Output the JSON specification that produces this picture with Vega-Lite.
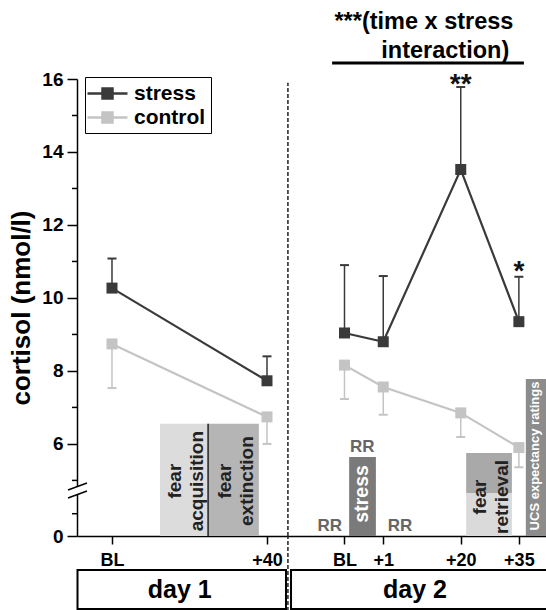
{
  "$schema": "https://vega.github.io/schema/vega-lite/v6.json",
  "width": 469,
  "height": 457,
  "autosize": "none",
  "padding": {"left": 77, "top": 79, "right": 0, "bottom": 74},
  "background": "white",
  "config": {"view": {"stroke": null}, "font": "Liberation Sans", "text": {"font": "Liberation Sans"}},
  "datasets": {
    "cortisol": [
      {"group": "stress", "day": "day 1", "t": 0, "mean": 10.27, "err": 11.08},
      {"group": "stress", "day": "day 1", "t": 40, "mean": 7.73, "err": 8.4},
      {"group": "stress", "day": "day 2", "t": 60, "mean": 9.04, "err": 10.9},
      {"group": "stress", "day": "day 2", "t": 70, "mean": 8.8, "err": 10.6},
      {"group": "stress", "day": "day 2", "t": 90, "mean": 13.52, "err": 15.78},
      {"group": "stress", "day": "day 2", "t": 105, "mean": 9.35, "err": 10.58},
      {"group": "control", "day": "day 1", "t": 0, "mean": 8.74, "err": 7.53},
      {"group": "control", "day": "day 1", "t": 40, "mean": 6.74, "err": 6.0},
      {"group": "control", "day": "day 2", "t": 60, "mean": 8.16, "err": 7.23},
      {"group": "control", "day": "day 2", "t": 70, "mean": 7.56, "err": 6.8},
      {"group": "control", "day": "day 2", "t": 90, "mean": 6.85, "err": 6.19},
      {"group": "control", "day": "day 2", "t": 105, "mean": 5.9, "err": 5.36}
    ],
    "phases": [
      {"phase": "acquisition", "t1": 12.4, "t2": 24.8, "y1": 0, "y2": 6.55},
      {"phase": "extinction", "t1": 24.8, "t2": 37.9, "y1": 0, "y2": 6.55},
      {"phase": "stressor", "t1": 61.2, "t2": 68.1, "y1": 0, "y2": 5.64},
      {"phase": "retrieval-late", "t1": 91.4, "t2": 103.2, "y1": 4.655, "y2": 5.75},
      {"phase": "retrieval-early", "t1": 91.4, "t2": 103.2, "y1": 0, "y2": 4.655},
      {"phase": "ucs", "t1": 106.8, "t2": 112.5, "y1": 0, "y2": 7.78}
    ],
    "phaseLabels": [
      {"text": "fear\nacquisition", "t": 16.3, "y": 4.98},
      {"text": "fear\nextinction", "t": 29.2, "y": 4.98},
      {"text": "fear\nretrieval", "t": 95.0, "y": 4.38}
    ],
    "rr": [
      {"text": "RR", "t": 56.2, "y": 1.12},
      {"text": "RR", "t": 64.6, "y": 5.92},
      {"text": "RR", "t": 74.3, "y": 1.12}
    ],
    "stars": [
      {"text": "**", "t": 90, "y": 15.62},
      {"text": "*", "t": 105, "y": 10.49}
    ],
    "note": [
      {"text": "***(time x stress", "t": 80.5, "y": 17.56},
      {"text": "interaction)", "t": 86, "y": 16.76}
    ],
    "noteLine": [{"t1": 56.8, "t2": 106.3, "y": 16.44}],
    "minorTicks": [{"v": 2.5}, {"v": 5}, {"v": 7}, {"v": 9}, {"v": 11}, {"v": 13}, {"v": 15}],
    "breakMarks": [
      {"t1": -11.35, "t2": -6.45, "y1": 4.737, "y2": 4.929},
      {"t1": -11.35, "t2": -6.45, "y1": 4.263, "y2": 4.71}
    ],
    "days": [
      {"day": "day 1", "t1": -8.9, "t2": 44.9, "tc": 17.5},
      {"day": "day 2", "t1": 46.2, "t2": 112.5, "tc": 78.2}
    ]
  },
  "encoding": {
    "x": {"type": "quantitative", "scale": {"domain": [-9.03, 112], "nice": false, "zero": false}}
  },
  "layer": [
    {
      "encoding": {
        "y": {"type": "quantitative", "scale": {"domain": [0, 4.6, 16], "range": [457, 416, 0], "nice": false, "zero": false}}
      },
      "layer": [
        {
          "data": {"name": "phases"},
          "mark": {"type": "rect", "clip": false},
          "encoding": {
            "x": {"field": "t1", "type": "quantitative", "axis": {
              "title": null, "values": [0, 40, 60, 70, 90, 105],
              "labelExpr": "datum.value == 0 || datum.value == 60 ? 'BL' : datum.value == 40 ? '+40' : datum.value == 70 ? '+1' : datum.value == 90 ? '+20' : '+35'",
              "grid": false, "domainColor": "black", "domainWidth": 1.5, "tickColor": "black", "tickWidth": 1.5, "tickSize": 8,
              "labelFontSize": 18, "labelFontWeight": "bold", "labelColor": "black", "labelPadding": 7, "labelOverlap": false, "labelFlush": false
            }},
            "x2": {"field": "t2"},
            "y": {"field": "y1", "type": "quantitative", "axis": {
              "title": "cortisol (nmol/l)", "titleFontSize": 26, "titleFontWeight": "bold", "titleColor": "black", "titlePadding": 7,
              "values": [0, 6, 8, 10, 12, 14, 16], "format": "d",
              "tickSize": 10,
              "grid": false, "domainColor": "black", "domainWidth": 1.5, "tickColor": "black", "tickWidth": 1.5,
              "labelFontSize": 19, "labelFontWeight": "bold", "labelColor": "black", "labelPadding": 4, "labelOverlap": false, "labelFlush": false
            }},
            "y2": {"field": "y2"},
            "fill": {"field": "phase", "type": "nominal", "legend": null, "scale": {
              "domain": ["acquisition", "extinction", "stressor", "retrieval-late", "retrieval-early", "ucs"],
              "range": ["#dcdcdc", "#b5b5b5", "#7a7a7a", "#a9a9a9", "#dadada", "#8c8c8c"]}}
          }
        },
        {
          "data": {"name": "minorTicks"},
          "mark": {"type": "rule", "color": "black", "strokeWidth": 1.5},
          "encoding": {"x": {"datum": -10.32, "type": "quantitative"}, "x2": {"datum": -9.03}, "y": {"field": "v", "type": "quantitative"}}
        },
        {
          "data": {"name": "phases"},
          "transform": [{"filter": "datum.phase == 'extinction'"}],
          "mark": {"type": "rule", "color": "#222", "strokeWidth": 1.5},
          "encoding": {"x": {"field": "t1", "type": "quantitative"}, "y": {"field": "y1", "type": "quantitative"}, "y2": {"field": "y2"}}
        },
        {
          "data": {"values": [{"t": 45.4, "y1": 0, "y2": 15.9}]},
          "mark": {"type": "rule", "color": "#222", "strokeWidth": 1.5, "strokeDash": [4, 2]},
          "encoding": {"x": {"field": "t", "type": "quantitative"}, "y": {"field": "y1", "type": "quantitative"}, "y2": {"field": "y2"}}
        },
        {
          "data": {"name": "cortisol"},
          "mark": {"type": "rule", "strokeWidth": 1.5},
          "encoding": {
            "x": {"field": "t", "type": "quantitative"},
            "y": {"field": "mean", "type": "quantitative"},
            "y2": {"field": "err"},
            "color": {"field": "group", "type": "nominal"}
          }
        },
        {
          "data": {"name": "cortisol"},
          "mark": {"type": "tick", "orient": "horizontal", "size": 9, "thickness": 2, "opacity": 1},
          "encoding": {
            "x": {"field": "t", "type": "quantitative"},
            "y": {"field": "err", "type": "quantitative"},
            "color": {"field": "group", "type": "nominal"}
          }
        },
        {
          "data": {"name": "cortisol"},
          "mark": {"type": "line", "strokeWidth": 2.2},
          "encoding": {
            "x": {"field": "t", "type": "quantitative"},
            "y": {"field": "mean", "type": "quantitative"},
            "color": {"field": "group", "type": "nominal"},
            "detail": {"field": "day", "type": "nominal"}
          }
        },
        {
          "data": {"name": "cortisol"},
          "mark": {"type": "point", "shape": "square", "filled": true, "size": 121, "opacity": 1},
          "encoding": {
            "x": {"field": "t", "type": "quantitative"},
            "y": {"field": "mean", "type": "quantitative"},
            "color": {"field": "group", "type": "nominal", "sort": ["stress", "control"],
              "scale": {"domain": ["stress", "control"], "range": ["#3a3a3a", "#c4c4c4"]},
              "legend": {
                "title": null, "orient": "none", "legendX": 8, "legendY": -2,
                "strokeColor": "black", "fillColor": "white", "padding": 5,
                "symbolType": "M-2,0H2M-0.5,-0.5H0.5V0.5H-0.5Z", "symbolSize": 400, "symbolStrokeWidth": 2.5,
                "symbolOffset": 6,
                "labelFontSize": 21, "labelFontWeight": "bold", "labelColor": "black", "labelOffset": 15, "rowPadding": 2,
                "encode": {"symbols": {"update": {"stroke": {"scale": "color", "field": "value"}, "fill": {"scale": "color", "field": "value"}}}}
              }}
          }
        },
        {
          "data": {"name": "phaseLabels"},
          "mark": {"type": "text", "angle": 270, "fontSize": 19, "fontWeight": "bold", "color": "#222", "lineBreak": "\n", "lineHeight": 22, "align": "center", "baseline": "middle"},
          "encoding": {"x": {"field": "t", "type": "quantitative"}, "y": {"field": "y", "type": "quantitative"}, "text": {"field": "text"}}
        },
        {
          "data": {"values": [{"text": "stress", "t": 64.6, "y": 4.63}]},
          "mark": {"type": "text", "angle": 270, "fontSize": 19.5, "fontWeight": "bold", "color": "white", "align": "center", "baseline": "middle"},
          "encoding": {"x": {"field": "t", "type": "quantitative"}, "y": {"field": "y", "type": "quantitative"}, "text": {"field": "text"}}
        },
        {
          "data": {"values": [{"text": "UCS expectancy ratings", "t": 109.2, "y": 5.67}]},
          "mark": {"type": "text", "angle": 270, "fontSize": 13, "fontWeight": "bold", "color": "white", "align": "center", "baseline": "middle"},
          "encoding": {"x": {"field": "t", "type": "quantitative"}, "y": {"field": "y", "type": "quantitative"}, "text": {"field": "text"}}
        },
        {
          "data": {"name": "rr"},
          "mark": {"type": "text", "fontSize": 17, "fontWeight": "bold", "color": "#666", "align": "center", "baseline": "middle"},
          "encoding": {"x": {"field": "t", "type": "quantitative"}, "y": {"field": "y", "type": "quantitative"}, "text": {"field": "text"}}
        },
        {
          "data": {"name": "stars"},
          "mark": {"type": "text", "fontSize": 28, "fontWeight": "bold", "color": "#111", "align": "center", "baseline": "alphabetic"},
          "encoding": {"x": {"field": "t", "type": "quantitative"}, "y": {"field": "y", "type": "quantitative"}, "text": {"field": "text"}}
        },
        {
          "data": {"name": "note"},
          "mark": {"type": "text", "fontSize": 23.5, "fontWeight": "bold", "color": "black", "align": "center", "baseline": "middle"},
          "encoding": {"x": {"field": "t", "type": "quantitative"}, "y": {"field": "y", "type": "quantitative"}, "text": {"field": "text"}}
        },
        {
          "data": {"name": "noteLine"},
          "mark": {"type": "rule", "color": "black", "strokeWidth": 3},
          "encoding": {"x": {"field": "t1", "type": "quantitative"}, "x2": {"field": "t2"}, "y": {"field": "y", "type": "quantitative"}}
        },
        {
          "data": {"values": [{"t": -9.03, "y1": 4.627, "y2": 4.819}]},
          "mark": {"type": "rule", "color": "white", "strokeWidth": 4},
          "encoding": {"x": {"field": "t", "type": "quantitative"}, "y": {"field": "y1", "type": "quantitative"}, "y2": {"field": "y2"}}
        },
        {
          "data": {"name": "breakMarks"},
          "mark": {"type": "rule", "color": "black", "strokeWidth": 1.5},
          "encoding": {"x": {"field": "t1", "type": "quantitative"}, "x2": {"field": "t2"}, "y": {"field": "y1", "type": "quantitative"}, "y2": {"field": "y2"}}
        }
      ]
    },
    {
      "encoding": {
        "y": {"type": "quantitative", "axis": null, "scale": {"domain": [0, 1], "range": [530, 491], "nice": false, "zero": false}}
      },
      "layer": [
        {
          "data": {"name": "days"},
          "mark": {"type": "rect", "fill": "white", "stroke": "black", "strokeWidth": 2},
          "encoding": {"x": {"field": "t1", "type": "quantitative"}, "x2": {"field": "t2"}, "y": {"datum": 0, "type": "quantitative"}, "y2": {"datum": 1}}
        },
        {
          "data": {"name": "days"},
          "mark": {"type": "text", "fontSize": 25, "fontWeight": "bold", "color": "black", "align": "center", "baseline": "middle"},
          "encoding": {"x": {"field": "tc", "type": "quantitative"}, "y": {"datum": 0.5, "type": "quantitative"}, "text": {"field": "day"}}
        },
        {
          "data": {"values": [{"t": 45.4, "y1": -0.05, "y2": 1.87}]},
          "mark": {"type": "rule", "color": "#222", "strokeWidth": 1.5, "strokeDash": [4, 2]},
          "encoding": {"x": {"field": "t", "type": "quantitative"}, "y": {"field": "y1", "type": "quantitative"}, "y2": {"field": "y2"}}
        }
      ]
    }
  ],
  "resolve": {"scale": {"y": "independent"}}
}
